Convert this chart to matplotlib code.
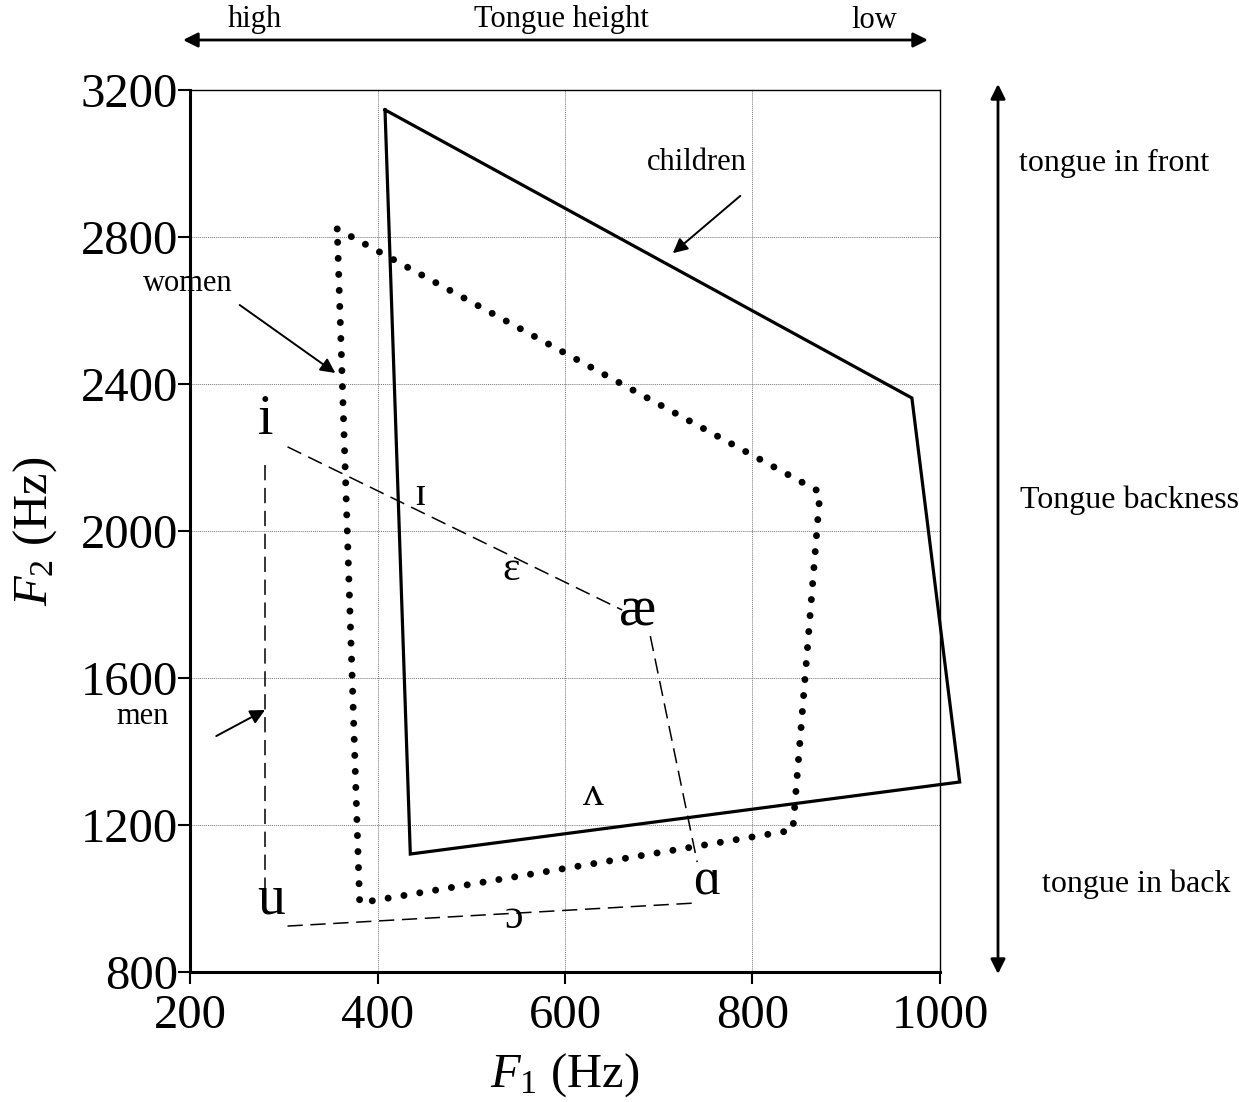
import matplotlib
matplotlib.use("Agg")
import matplotlib.pyplot as plt
from matplotlib.patches import FancyArrowPatch

plt.rcParams['font.family'] = ['Liberation Serif', 'DejaVu Serif']
plt.rcParams['mathtext.fontset'] = 'custom'
plt.rcParams['mathtext.rm'] = 'Liberation Serif'
plt.rcParams['mathtext.it'] = 'Liberation Serif:italic'

# Vowel-space outlines (F1, F2 in Hz)
children_f1 = [408, 970, 1021, 435, 408]
children_f2 = [3146, 2362, 1317, 1121, 3146]

women_f1 = [357, 872, 843, 381, 357]
women_f2 = [2822, 2106, 1186, 988, 2822]

# Men: dashed segments between vowel corners
men_segments_f1 = [[280, 280], [304, 661], [691, 741], [304, 741]]
men_segments_f2 = [[2180, 1000], [2229, 1785], [1714, 1099], [925, 988]]

# Vowel symbols (men)
vowels = ['i', 'ɪ', 'ɛ', 'æ', 'ʌ', 'ɑ', 'ɔ', 'u']
vowel_f1 = [281, 445, 543, 677, 630, 751, 545, 287]
vowel_f2 = [2302, 2098, 1894, 1780, 1282, 1045, 947, 996]
vowel_size = [40, 30, 30, 40, 30, 38, 30, 40]

x_ticks = [200, 400, 600, 800, 1000]
y_ticks = [800, 1200, 1600, 2000, 2400, 2800, 3200]

fig = plt.figure(figsize=(12.39, 11.02), dpi=100)
ax = fig.add_axes([190 / 1239, 1 - 972 / 1102, 750 / 1239, 882 / 1102])

ax.set_xlim(200, 1000)
ax.set_ylim(800, 3200)
ax.set_xticks(x_ticks)
ax.set_yticks(y_ticks)
ax.tick_params(axis='both', direction='out', length=8.5, width=1.5,
               labelsize=35)
ax.tick_params(axis='x', pad=7)
ax.tick_params(axis='y', pad=0)
ax.grid(True, linestyle=(0, (1, 1)), color='#777777', linewidth=0.7)
ax.set_axisbelow(True)

for side in ['left', 'bottom']:
    ax.spines[side].set_linewidth(2.2)
for side in ['top', 'right']:
    ax.spines[side].set_linewidth(1.0)

ax.set_xlabel(r'$F_1$ (Hz)', fontsize=35, labelpad=10)
ax.set_ylabel(r'$F_2$ (Hz)', fontsize=35, labelpad=16)

# Children: solid outline
ax.plot(children_f1, children_f2, color='black', linewidth=2.3,
        solid_joinstyle='miter', zorder=3, clip_on=False)

# Women: dotted outline
ax.plot(women_f1, women_f2, color='black', linewidth=5.0,
        linestyle=(0, (0.01, 2.3)), dash_capstyle='round', zorder=3)

# Men: dashed outline
for xs, ys in zip(men_segments_f1, men_segments_f2):
    ax.plot(xs, ys, color='black', linewidth=1.1,
            linestyle=(0, (10, 5)), zorder=3)

for v, fx, fy, s in zip(vowels, vowel_f1, vowel_f2, vowel_size):
    ax.text(fx, fy, v, fontsize=s, ha='center', va='center', zorder=4)

# Group labels with arrows
arrow_kw = dict(arrowstyle='-|>', color='black', lw=1.4, mutation_scale=22,
                shrinkA=0, shrinkB=0)
ax.annotate('', xy=(715, 2756), xytext=(787, 2912), arrowprops=arrow_kw)
fig.text(697 / 1239, 1 - 163 / 1102, 'children', fontsize=22,
         ha='center', va='center')

ax.annotate('', xy=(355, 2430), xytext=(253, 2615), arrowprops=arrow_kw,
            annotation_clip=False)
fig.text(188 / 1239, 1 - 283 / 1102, 'women', fontsize=22,
         ha='center', va='center')

ax.annotate('', xy=(280, 1513), xytext=(228, 1442), arrowprops=arrow_kw)
fig.text(143 / 1239, 1 - 717 / 1102, 'men', fontsize=22,
         ha='center', va='center')

# Tongue height (top) and backness (right) guides
dbl_kw = dict(arrowstyle='<|-|>', color='black', lw=2.0, mutation_scale=22,
              shrinkA=0, shrinkB=0)
fig.add_artist(FancyArrowPatch(
    (183 / 1239, 1 - 40 / 1102), (928 / 1239, 1 - 40 / 1102),
    transform=fig.transFigure, **dbl_kw))
fig.text(255 / 1239, 1 - 20 / 1102, 'high', fontsize=22, ha='center', va='center')
fig.text(561 / 1239, 1 - 20 / 1102, 'Tongue height', fontsize=22, ha='center', va='center')
fig.text(874 / 1239, 1 - 20 / 1102, 'low', fontsize=22, ha='center', va='center')

fig.add_artist(FancyArrowPatch(
    (998 / 1239, 1 - 84 / 1102), (998 / 1239, 1 - 974 / 1102),
    transform=fig.transFigure, **dbl_kw))
fig.text(1114 / 1239, 1 - 163 / 1102, 'tongue in front', fontsize=23, ha='center', va='center')
fig.text(1129 / 1239, 1 - 500 / 1102, 'Tongue backness', fontsize=23, ha='center', va='center')
fig.text(1136 / 1239, 1 - 884 / 1102, 'tongue in back', fontsize=23, ha='center', va='center')

fig.savefig('out.png', dpi=100)
